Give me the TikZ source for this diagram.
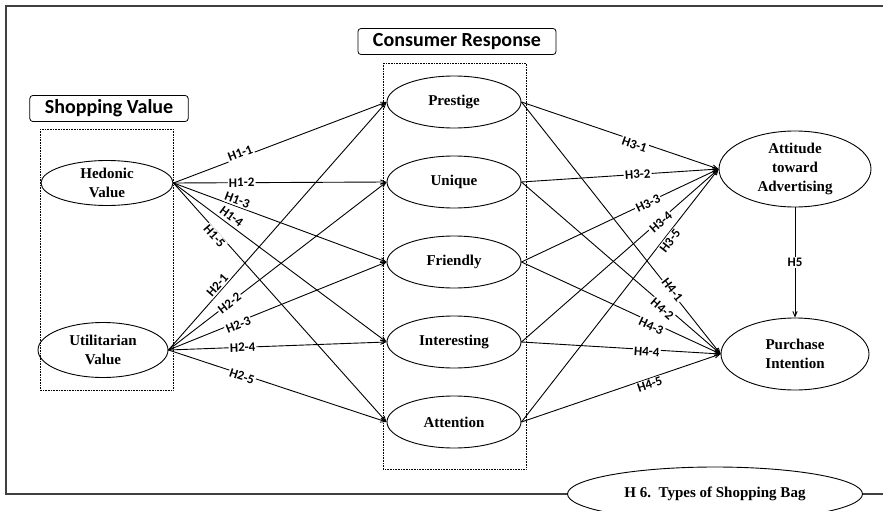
\documentclass[tikz,border=0pt]{standalone}
\usepackage{fontspec}
\setmainfont{Liberation Serif}
\newfontfamily\calibri{Carlito}
\usetikzlibrary{shapes.geometric}
\usetikzlibrary{positioning}
\usetikzlibrary{arrows}
\tikzset{node distance=80pt,
    construct/.style={
        ellipse,
        draw,
        line width=0.9pt,
        align=center,
        inner sep=0pt,
        minimum width=134pt,
        minimum height=52pt,
        font=\fontsize{15}{19}\selectfont\bfseries},
    groupbox/.style={
        draw,
        rounded corners=3pt,
        line width=0.8pt,
        inner xsep=15pt,
        inner ysep=0pt,
        minimum height=26pt,
        font=\fontsize{20}{22}\selectfont\calibri\bfseries},
    hyptext/.style={
        fill=white,
        inner sep=1.2pt,
        font=\fontsize{13}{15}\selectfont\calibri\bfseries},
    hyp/.style={
        hyptext,
        sloped},
    every edge/.style={
        draw,
        ->,>=angle 45,
        line width=0.9pt}}

\begin{document}
\begin{tikzpicture}[x=1pt,y=-1pt]
        \clip (0,0) rectangle (883,511);

        \node[construct,minimum width=295pt,minimum height=54pt] (h6) at (715,494) {H 6.\ \ Types of Shopping Bag};
        \draw[line width=1.4pt,black!75] (883,6) -- (6,6) -- (6,494) -- (h6.west);
        \draw[line width=1.2pt,black!75] (h6.east) -- (883,494);

        \node[groupbox] (sv) at (109,108.5) {Shopping Value};
        \node[groupbox] (cr) at (457,41.5) {Consumer Response};
        \draw[densely dotted,line width=0.6pt] (40,129) rectangle (173,390);
        \draw[densely dotted,line width=0.6pt] (383,63) rectangle (526,469);

        \node[construct,minimum width=132pt,minimum height=45pt] (hed) at (107,183) {Hedonic\\Value};
        \node[construct,minimum width=130pt,minimum height=55pt] (uti) at (103,350) {Utilitarian\\Value};

        \node[construct] (pre) at (454,102) {Prestige};
        \node[construct,below of=pre] (uni) {Unique};
        \node[construct,below of=uni] (fri) {Friendly};
        \node[construct,below of=fri] (int) {Interesting};
        \node[construct,below of=int] (att) {Attention};

        \node[construct,minimum width=152pt,minimum height=76pt] (adv) at (795,169) {Attitude\\toward\\Advertising};
        \node[construct,minimum width=148pt,minimum height=72pt] (pur) at (795,354) {Purchase\\Intention};

        \path (hed.east) edge (pre.west) edge (uni.west) edge (fri.west) edge (int.west) edge (att.west);
        \path (uti.east) edge (pre.west) edge (uni.west) edge (fri.west) edge (int.west) edge (att.west);
        \path (pre.east) edge (adv.west) edge (pur.west);
        \path (uni.east) edge (adv.west) edge (pur.west);
        \path (fri.east) edge (adv.west) edge (pur.west);
        \path (int.east) edge (adv.west) edge (pur.west);
        \path (att.east) edge (adv.west) edge (pur.west);
        \path (adv) edge (pur);

        \path[every edge/.style={}]
              (hed.east) edge node[hyp,pos=.32,yshift=4pt] {H1-1} (pre.west)
                         edge node[hyp,pos=.32] {H1-2} (uni.west)
                         edge node[hyp,pos=.29,yshift=6pt] {H1-3} (fri.west)
                         edge node[hyp,pos=.25,yshift=8pt] {H1-4} (int.west)
                         edge node[hyp,pos=.21,yshift=-5pt] {H1-5} (att.west)
              (uti.east) edge node[hyp,pos=.245,yshift=6pt] {H2-1} (pre.west)
                         edge node[hyp,pos=.28] {H2-2} (uni.west)
                         edge node[hyp,pos=.315,yshift=-3pt] {H2-3} (fri.west)
                         edge node[hyp,pos=.34] {H2-4} (int.west)
                         edge node[hyp,pos=.34,yshift=-2pt] {H2-5} (att.west)
              (pre.east) edge node[hyp,pos=.58,yshift=-4pt] {H3-1} (adv.west)
                         edge node[hyp,pos=.75,yshift=2pt] {H4-1} (pur.west)
              (uni.east) edge node[hyp,pos=.59] {H3-2} (adv.west)
                         edge node[hyp,pos=.72,yshift=-4pt] {H4-2} (pur.west)
              (fri.east) edge node[hyp,pos=.64,yshift=-1pt] {H3-3} (adv.west)
                         edge node[hyp,pos=.66,yshift=-4pt] {H4-3} (pur.west)
              (int.east) edge node[hyp,pos=.70,yshift=-2pt] {H3-4} (adv.west)
                         edge node[hyp,pos=.63,yshift=-2pt] {H4-4} (pur.west)
              (att.east) edge node[hyp,pos=.73,yshift=-6pt] {H3-5} (adv.west)
                         edge node[hyp,pos=.635,yshift=-6pt] {H4-5} (pur.west)
              (adv) edge node[hyptext] {H5} (pur);
    \end{tikzpicture}
\end{document}
